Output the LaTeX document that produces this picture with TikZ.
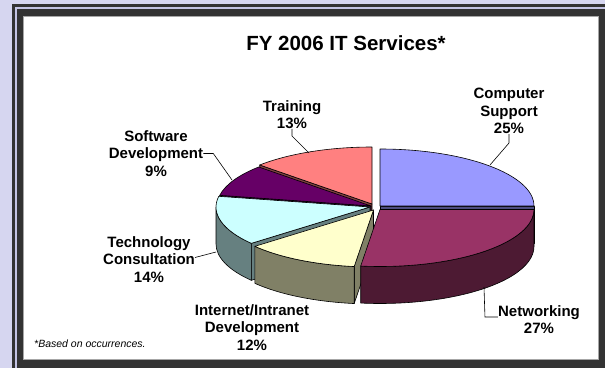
\documentclass[tikz,border=0pt]{standalone}
\usepackage{fontspec}
\setmainfont{Liberation Sans}

\definecolor{pagebg}{HTML}{D6D6F0}
\definecolor{framedark}{HTML}{333333}
\definecolor{frameline}{HTML}{C4C4E4}
\definecolor{cstop}{HTML}{9999FF}
\definecolor{csside}{HTML}{4D4D80}
\definecolor{trtop}{HTML}{FF8080}
\definecolor{trside}{HTML}{804040}
\definecolor{swtop}{HTML}{660066}
\definecolor{swside}{HTML}{330033}
\definecolor{tctop}{HTML}{CCFFFF}
\definecolor{tcside}{HTML}{668080}
\definecolor{intop}{HTML}{FFFFCC}
\definecolor{inside}{HTML}{808066}
\definecolor{nwtop}{HTML}{993366}
\definecolor{nwside}{HTML}{4D1A33}

\begin{document}
\begin{tikzpicture}[x=1pt, y=1pt]
        \tikzstyle{lbl} = [font=\bfseries\fontsize{15}{17.5}\selectfont, align=center, inner sep=0pt]
        \tikzstyle{lead} = [draw, black, line width=0.6pt]
        \tikzstyle{face} = [draw=black, line width=0.6pt, line join=round]

        \useasboundingbox (0,0) rectangle (605,368);
        \fill[pagebg] (0,0) rectangle (605,368);
        \fill[framedark] (12,0) rectangle (605,364);
        \draw[frameline, line width=1.5pt] (16,0) -- (16,360) -- (605,360);
        \filldraw[fill=white, draw=gray!70, line width=1pt] (23.5,9) rectangle (598,352);

        \coordinate (csA) at (380,162);
        \coordinate (trA) at (372,164);
        \coordinate (swA) at (371,162);
        \coordinate (tcA) at (370,161);
        \coordinate (inA) at (373.5,158);
        \coordinate (nwA) at (380,158.5);

        % computer support
        \filldraw[face, fill=csside] (csA) -- ++(0:154pt and 57pt) -- ++(0,-37) -- ++(180:154pt and 57pt) -- cycle;
        \filldraw[face, fill=cstop] (csA) -- ++(0:154pt and 57pt) arc[start angle=0, end angle=90, x radius=154pt, y radius=57pt] -- cycle;

        % training
        \filldraw[face, fill=trside] (trA) -- ++(136.8:154pt and 57pt) -- ++(0,-37) -- ++(316.8:154pt and 57pt) -- cycle;
        \filldraw[face, fill=trtop] (trA) -- ++(90:154pt and 57pt) arc[start angle=90, end angle=136.8, x radius=154pt, y radius=57pt] -- cycle;

        % software development
        \filldraw[face, fill=swside] (swA) -- ++(169.2:154pt and 57pt) -- ++(0,-37) -- ++(349.2:154pt and 57pt) -- cycle;
        \filldraw[face, fill=swtop] (swA) -- ++(136.8:154pt and 57pt) arc[start angle=136.8, end angle=169.2, x radius=154pt, y radius=57pt] -- cycle;

        % technology consultation
        \filldraw[face, fill=tcside] (tcA) -- ++(219.6:154pt and 57pt) -- ++(0,-37) -- ++(39.6:154pt and 57pt) -- cycle;
        \filldraw[face, fill=tcside] (tcA) ++(180:154pt and 57pt) arc[start angle=180, end angle=219.6, x radius=154pt, y radius=57pt] -- ++(0,-37) arc[start angle=219.6, end angle=180, x radius=154pt, y radius=57pt] -- cycle;
        \filldraw[face, fill=tctop] (tcA) -- ++(169.2:154pt and 57pt) arc[start angle=169.2, end angle=219.6, x radius=154pt, y radius=57pt] -- cycle;

        % internet/intranet development
        \filldraw[face, fill=inside] (inA) -- ++(262.8:154pt and 57pt) -- ++(0,-37) -- ++(82.8:154pt and 57pt) -- cycle;
        \filldraw[face, fill=inside] (inA) ++(219.6:154pt and 57pt) arc[start angle=219.6, end angle=262.8, x radius=154pt, y radius=57pt] -- ++(0,-37) arc[start angle=262.8, end angle=219.6, x radius=154pt, y radius=57pt] -- cycle;
        \filldraw[face, fill=intop] (inA) -- ++(219.6:154pt and 57pt) arc[start angle=219.6, end angle=262.8, x radius=154pt, y radius=57pt] -- cycle;

        % networking
        \filldraw[face, fill=nwside] (nwA) ++(262.8:154pt and 57pt) arc[start angle=262.8, end angle=360, x radius=154pt, y radius=57pt] -- ++(0,-37) arc[start angle=360, end angle=262.8, x radius=154pt, y radius=57pt] -- cycle;
        \filldraw[face, fill=nwtop] (nwA) -- ++(262.8:154pt and 57pt) arc[start angle=262.8, end angle=360, x radius=154pt, y radius=57pt] -- cycle;

        \node[font=\bfseries\fontsize{20.5}{24}\selectfont, inner sep=0pt] (title) at (346,325) {FY 2006 IT Services*};

        \node[lbl] (cs) at (509,257) {Computer\\Support\\25\%};
        \node[lbl] (tr) at (292,253.5) {Training\\13\%};
        \node[lbl] (sw) at (156,214.5) {Software\\Development\\9\%};
        \node[lbl] (tc) at (149,108.5) {Technology\\Consultation\\14\%};
        \node[lbl] (inet) at (252,40.5) {Internet/Intranet\\Development\\12\%};
        \node[lbl] (nw) at (539,48.5) {Networking\\27\%};
        \node[font=\itshape\fontsize{10.5}{12}\selectfont, anchor=west, inner sep=0pt] (note) at (34,24) {*Based on occurrences.};

        \coordinate (csEdge) at (490,203);
        \coordinate (trEdge) at (309,215);
        \coordinate (swEdge) at (232,188);
        \coordinate (tcEdge) at (216,116);
        \coordinate (nwEdge) at (484,81);

        \path[lead] (cs.south) -- ++(0,-9) -- (csEdge);
        \path[lead] (tr.south) -- ++(0,-7) -- (trEdge);
        \path[lead] (sw.east) -- ++(10,0) -- (swEdge);
        \path[lead] ([yshift=2]tc.east) -- (tcEdge);
        \path[lead] ([yshift=2.5]nw.west) -- ++(-13,0) -- (nwEdge);
\end{tikzpicture}
\end{document}
